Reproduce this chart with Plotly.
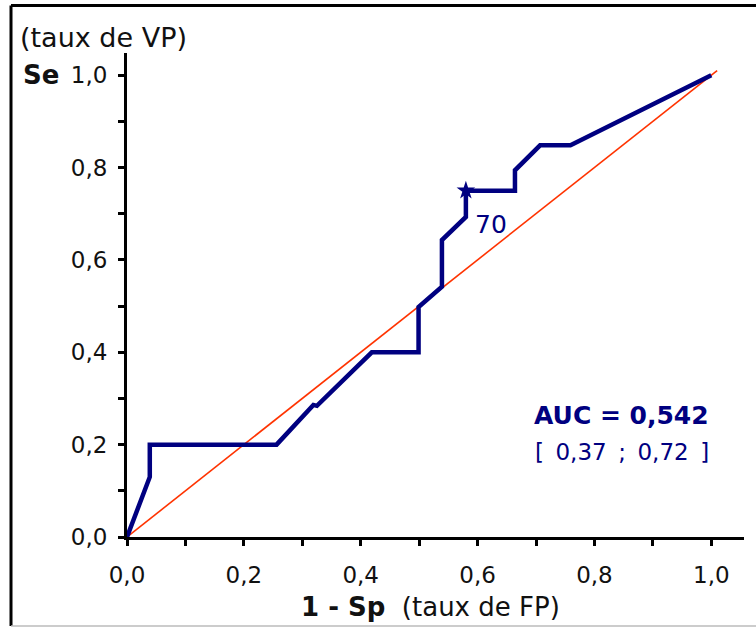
import plotly.graph_objects as go

# ROC curve: 1 - specificity (false-positive rate) vs sensitivity (true-positive rate)
fpr = [0, 0.039, 0.039, 0.256, 0.319, 0.325, 0.385, 0.419, 0.499, 0.499,
       0.539, 0.539, 0.58, 0.58, 0.664, 0.664, 0.707, 0.759, 1.0]
tpr = [0, 0.13, 0.2, 0.2, 0.286, 0.284, 0.358, 0.4, 0.4, 0.498,
       0.542, 0.643, 0.693, 0.75, 0.75, 0.794, 0.848, 0.848, 1.0]

# highlighted threshold
cut_label = "70"
cut_x, cut_y = 0.58, 0.75

# chance diagonal
diag = [0, 1.01]

auc_text = "AUC = 0,542"
ci_text = "[\u20020,37\u2002;\u20020,72\u2002]"

tick_vals = [i / 10 for i in range(11)]
tick_text = [f"{v:.1f}".replace(".", ",") if i % 2 == 0 else "" for i, v in enumerate(tick_vals)]

NAVY = "#000080"
RED = "#ff3300"
FONT = "DejaVu Sans"

fig = go.Figure()
fig.add_trace(go.Scatter(x=diag, y=diag, mode="lines",
                         line=dict(color=RED, width=1.6), hoverinfo="skip"))
fig.add_trace(go.Scatter(x=fpr, y=tpr, mode="lines",
                         line=dict(color=NAVY, width=4.5), hoverinfo="skip"))
fig.add_trace(go.Scatter(x=[cut_x], y=[cut_y], mode="markers",
                         marker=dict(symbol="star", size=14, color=NAVY), hoverinfo="skip"))

axis_common = dict(
    showline=True, linewidth=3, linecolor="black",
    ticks="outside", ticklen=6, tickwidth=3, tickcolor="black",
    tickvals=tick_vals, ticktext=tick_text,
    showgrid=False, zeroline=False,
    tickfont=dict(family=FONT, size=23, color="#111"),
)

fig.update_layout(
    width=756, height=627,
    margin=dict(l=127, r=12, t=53, b=90),
    paper_bgcolor="white", plot_bgcolor="white",
    showlegend=False,
    xaxis=dict(range=[0, 1.056], ticklabelstandoff=9, **axis_common),
    yaxis=dict(range=[0, 1.048], ticklabelstandoff=6, **axis_common),
)

fig.add_annotation(x=cut_x, y=cut_y, text=cut_label, showarrow=False,
                   xanchor="left", yanchor="middle", xshift=7, yshift=-34,
                   font=dict(family=FONT, size=25, color=NAVY))
fig.add_annotation(x=1.0, y=0.264, text=f"<b>{auc_text}</b>", showarrow=False,
                   xanchor="right", yanchor="middle",
                   font=dict(family=FONT, size=25, color=NAVY))
fig.add_annotation(x=1.0, y=0.184, text=ci_text, showarrow=False,
                   xanchor="right", yanchor="middle",
                   font=dict(family=FONT, size=23, color=NAVY))

# axis captions
fig.add_annotation(xref="paper", yref="paper", x=-0.1767, y=1.033,
                   text="(taux de VP)", showarrow=False, xanchor="left", yanchor="middle",
                   font=dict(family=FONT, size=27, color="#111"))
fig.add_annotation(xref="paper", yref="paper", x=-0.172, y=0.9545,
                   text="<b>Se</b>", showarrow=False, xanchor="left", yanchor="middle",
                   font=dict(family=FONT, size=26, color="#111"))
fig.add_annotation(xref="paper", yref="paper", x=0.4927, y=-0.1446,
                   text="<b>1 - Sp</b>\u00a0\u00a0(taux de FP)", showarrow=False,
                   xanchor="center", yanchor="middle",
                   font=dict(family=FONT, size=26, color="#111"))

# frame around the figure
fig.add_shape(type="line", xref="paper", yref="paper", x0=-0.188, x1=1.02, y0=1.098, y1=1.098,
              line=dict(color="black", width=3))
fig.add_shape(type="line", xref="paper", yref="paper", x0=-0.188, x1=-0.188, y0=1.098, y1=-0.184,
              line=dict(color="black", width=3))
fig.add_shape(type="line", xref="paper", yref="paper", x0=-0.188, x1=1.02, y0=-0.184, y1=-0.184,
              line=dict(color="#bbbbbb", width=1.5))

fig.write_html("out.html")
